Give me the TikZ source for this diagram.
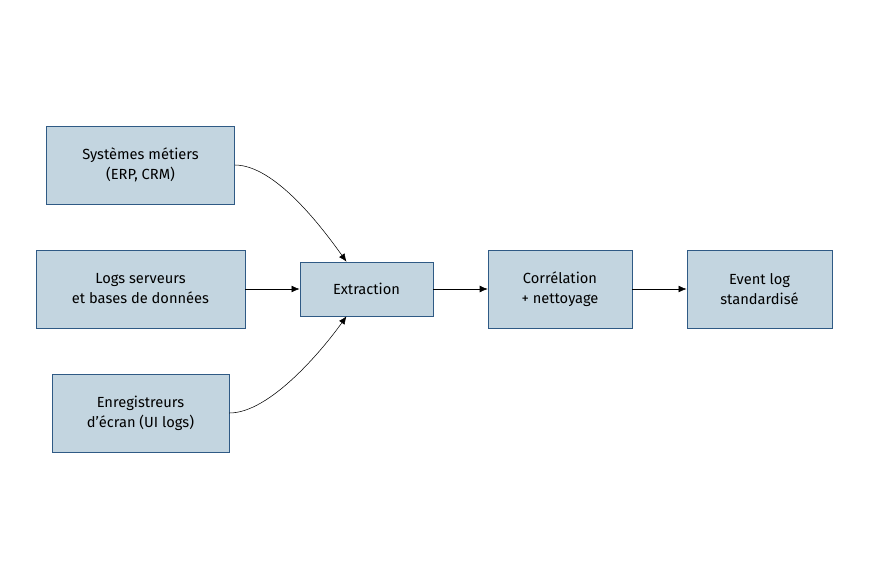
\documentclass[tikz,border=0pt]{standalone}
\usepackage{fontspec}
\setmainfont{Fira Sans}
\usetikzlibrary{arrows.meta}
\definecolor{boxfill}{HTML}{C3D5E0}
\definecolor{boxline}{HTML}{2F5A85}
\begin{document}
\begin{tikzpicture}
		[x=0.75pt,y=-0.75pt,
		 box/.style={draw=boxline,fill=boxfill,align=center,font=\fontsize{11}{15}\selectfont,inner sep=0pt},
		 flow/.style={-{Latex[length=6pt,width=5pt]},black,thin}]
			\useasboundingbox (0,0) rectangle (869,579);
			\node[box,minimum width=141pt,minimum height=58.5pt] (sys) at (140.5,165) {Systèmes métiers\\(ERP, CRM)};
			\node[box,minimum width=157pt,minimum height=58.5pt] (logs) at (140.5,289) {Logs serveurs\\et bases de données};
			\node[box,minimum width=133pt,minimum height=58.5pt] (ecran) at (140.5,413) {Enregistreurs\\d'écran (UI logs)};
			\node[box,minimum width=100pt,minimum height=40.5pt] (ext) at (366.5,289) {Extraction};
			\node[box,minimum width=108pt,minimum height=58.5pt] (corr) at (560,289) {Corrélation\\+ nettoyage};
			\node[box,minimum width=109pt,minimum height=58.5pt] (evlog) at (759.5,289) {Event log\\standardisé};
			\coordinate (exttop) at ([xshift=-15pt]ext.north);
			\coordinate (extbot) at ([xshift=-15pt]ext.south);
			\draw[flow] (sys.east) .. controls +(40,0) and +(-25,-35) .. (exttop);
			\draw[flow] (ecran.east) .. controls +(40,0) and +(-25,35) .. (extbot);
			\draw[flow] (logs) -- (ext);
			\draw[flow] (ext) -- (corr);
			\draw[flow] (corr) -- (evlog);
	\end{tikzpicture}
\end{document}
